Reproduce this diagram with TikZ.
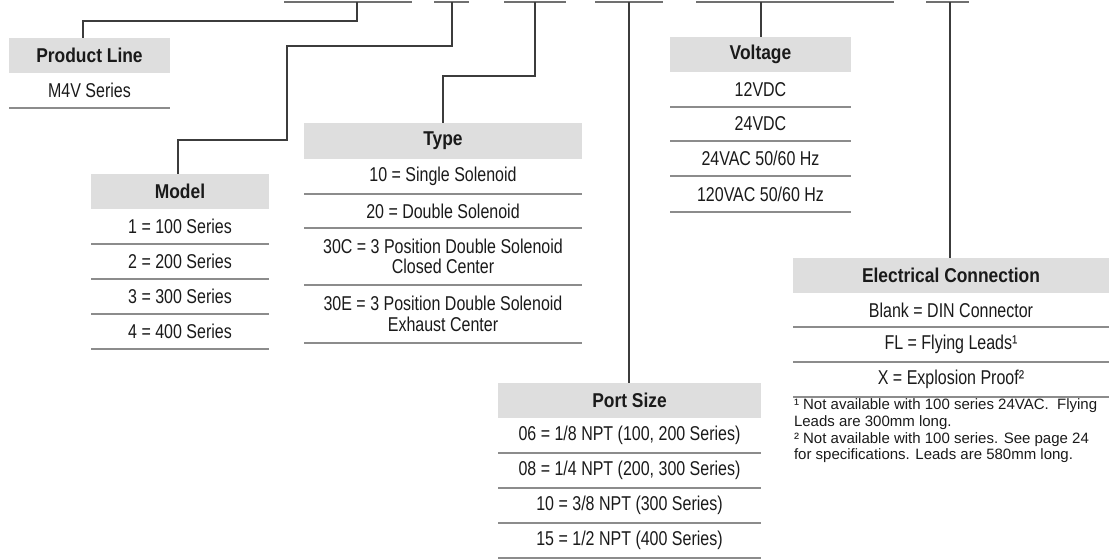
\documentclass[tikz,border=0pt]{standalone}
\usepackage{fontspec}
\setmainfont{Liberation Sans}[FakeStretch=0.80,BoldFeatures={FakeStretch=0.87}]
\newfontfamily\fnfont{Liberation Sans}
\definecolor{hdrgray}{HTML}{DEDEDE}
\definecolor{sepgray}{HTML}{8C8C8C}
\definecolor{bargray}{HTML}{707070}
\definecolor{conncol}{HTML}{3C3C3C}
\definecolor{txt}{HTML}{1A1A1A}
\begin{document}
\begin{tikzpicture}[x=1pt,y=-1pt,
  every node/.style={inner sep=0pt, outer sep=0pt, text=txt},
  hdr/.style={fill=hdrgray, anchor=north west, minimum height=35, font=\fontsize{20}{21}\selectfont\bfseries},
  cell/.style={anchor=north west, minimum height=35, align=center, font=\fontsize{20}{20.5}\selectfont},
  sepline/.style={draw=sepgray, line width=1.2pt},
  bar/.style={draw=bargray, line width=1.4pt},
  conn/.style={draw=conncol, line width=1.1pt},
  fn/.style={anchor=north west, align=left, font=\fnfont\fontsize{15}{16.6}\selectfont}]
\useasboundingbox (0,0) rectangle (1111,558);

% top bars
\coordinate (b1l) at (284,2); \coordinate (b1r) at (412,2);
\coordinate (b2l) at (434,2); \coordinate (b2r) at (469,2);
\coordinate (b3l) at (504,2); \coordinate (b3r) at (566,2);
\coordinate (b4l) at (595,2); \coordinate (b4r) at (663,2);
\coordinate (b5l) at (696,2); \coordinate (b5r) at (894,2);
\coordinate (b6l) at (926,2); \coordinate (b6r) at (969,2);
\foreach \i in {1,...,6} \draw[bar] (b\i l) -- (b\i r);
\coordinate (c1) at (357,2);
\coordinate (c2) at (452,2);
\coordinate (c3) at (535,2);
\coordinate (c4) at (629,2);
\coordinate (c5) at (761,2);
\coordinate (c6) at (950,2);

% Product Line
\node[hdr, minimum width=161] (plh) at (9,38) {Product Line};
\node[cell, minimum width=161] (pl1) at (plh.south west) {M4V Series};

% Model
\node[hdr, minimum width=178] (mh) at (91,174) {Model};
\node[cell, minimum width=178] (m1) at (mh.south west) {1 = 100 Series};
\node[cell, minimum width=178] (m2) at (m1.south west) {2 = 200 Series};
\node[cell, minimum width=178] (m3) at (m2.south west) {3 = 300 Series};
\node[cell, minimum width=178] (m4) at (m3.south west) {4 = 400 Series};

% Type
\node[hdr, minimum width=278, minimum height=36] (th) at (304,123) {Type};
\node[cell, minimum width=278] (t1) at (th.south west) {10 = Single Solenoid};
\node[cell, minimum width=278, minimum height=34] (t2) at (t1.south west) {20 = Double Solenoid};
\node[cell, minimum width=278, minimum height=57] (t3) at (t2.south west) {30C = 3 Position Double Solenoid\\Closed Center};
\node[cell, minimum width=278, minimum height=58] (t4) at (t3.south west) {30E = 3 Position Double Solenoid\\Exhaust Center};

% Voltage
\node[hdr, minimum width=181] (vh) at (670,37) {Voltage};
\node[cell, minimum width=181] (v1) at (vh.south west) {12VDC};
\node[cell, minimum width=181, minimum height=34] (v2) at (v1.south west) {24VDC};
\node[cell, minimum width=181] (v3) at (v2.south west) {24VAC 50/60 Hz};
\node[cell, minimum width=181, minimum height=36] (v4) at (v3.south west) {120VAC 50/60 Hz};

% Port Size
\node[hdr, minimum width=263] (ph) at (498,383) {Port Size};
\node[cell, minimum width=263] (p1) at (ph.south west) {06 = 1/8 NPT (100, 200 Series)};
\node[cell, minimum width=263] (p2) at (p1.south west) {08 = 1/4 NPT (200, 300 Series)};
\node[cell, minimum width=263] (p3) at (p2.south west) {10 = 3/8 NPT (300 Series)};
\node[cell, minimum width=263] (p4) at (p3.south west) {15 = 1/2 NPT (400 Series)};

% Electrical Connection
\node[hdr, minimum width=316] (eh) at (793,258) {Electrical Connection};
\node[cell, minimum width=316, minimum height=34] (e1) at (eh.south west) {Blank = DIN Connector};
\node[cell, minimum width=316] (e2) at (e1.south west) {FL = Flying Leads¹};
\node[cell, minimum width=316] (e3) at (e2.south west) {X = Explosion Proof²};

\node[fn] (notes) at (794,399) {¹ Not available with 100 series 24VAC.~ Flying\\Leads are 300mm long.\\² Not available with 100 series. See page 24\\for specifications. Leads are 580mm long.};

% separators
\foreach \n in {pl1,m1,m2,m3,m4,t1,t2,t3,t4,v1,v2,v3,v4,p1,p2,p3,p4,e1,e2,e3}
  \draw[sepline] (\n.south west) -- (\n.south east);

% connectors
\draw[conn] (c1) -- (357,21) -- (83,21) -- (plh.north -| 83,0);
\draw[conn] (c2) -- (452,46) -- (287,46) -- (287,140) -- (178,140) -- (mh.north -| 178,0);
\draw[conn] (c3) -- (535,76) -- (443,76) -- (th.north -| 443,0);
\draw[conn] (c4) -- (ph.north -| c4);
\draw[conn] (c5) -- (vh.north -| c5);
\draw[conn] (c6) -- (eh.north -| c6);
\end{tikzpicture}
\end{document}
